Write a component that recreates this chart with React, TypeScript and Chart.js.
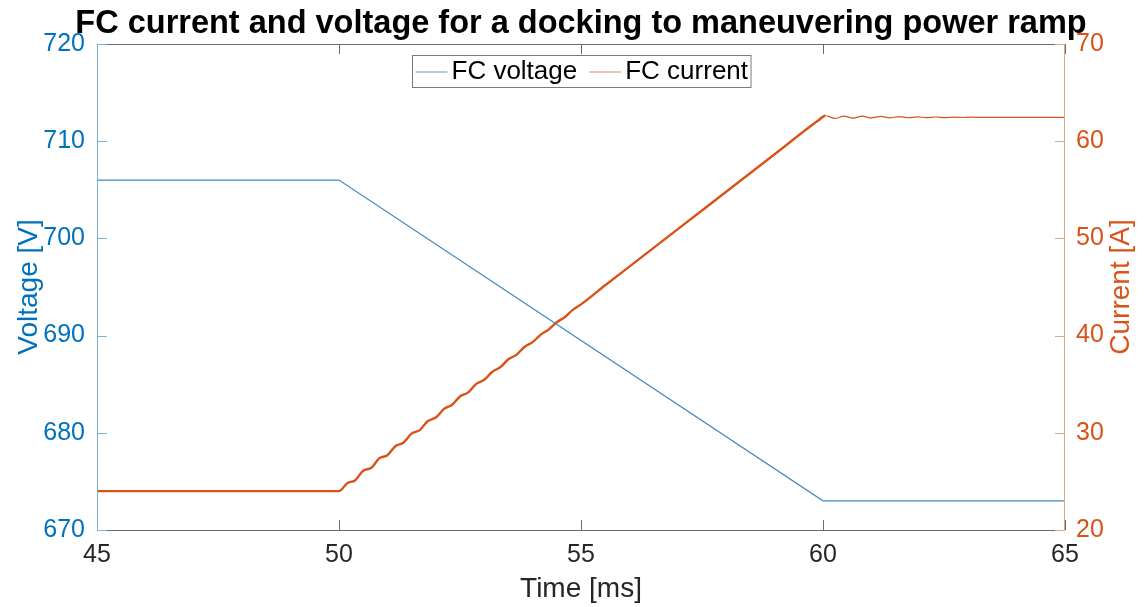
import React, { useEffect, useRef } from "react";
import { Chart, registerables } from "chart.js";

Chart.register(...registerables);

const chartTitle = "FC current and voltage for a docking to maneuvering power ramp";
const xTitle = "Time [ms]";
const yLeftTitle = "Voltage [V]";
const yRightTitle = "Current [A]";

const voltageLabel = "FC voltage";
const currentLabel = "FC current";

const xTicks = [45, 50, 55, 60, 65];
const voltageTicks = [670, 680, 690, 700, 710, 720];
const currentTicks = [20, 30, 40, 50, 60, 70];

const voltageTime = [45, 50, 60, 65];
const voltageValues = [706, 706, 673, 673];

const currentTime = [
  45.0, 50.0, 50.17, 50.33, 50.5, 50.67, 50.83, 51.0, 51.17, 51.33, 51.5, 51.67, 51.83,
  52.0, 52.17, 52.33, 52.5, 52.67, 52.83, 53.0, 53.17, 53.33, 53.5, 53.67, 53.83,
  54.0, 54.17, 54.33, 54.5, 54.67, 54.83, 55.0, 55.5, 56.0, 57.0, 58.0, 59.0, 59.9,
  60.05, 60.25, 60.43, 60.62, 60.81, 61.0, 61.19, 61.38, 61.57, 61.76, 61.95, 62.14,
  62.33, 62.52, 62.71, 62.9, 63.09, 63.28, 63.5, 64.0, 65.0,
];
const currentValues = [
  24.0, 24.0, 24.82, 25.1, 26.1, 26.4, 27.37, 27.69, 28.64, 28.98, 29.92, 30.28, 31.19,
  31.57, 32.46, 32.86, 33.74, 34.16, 35.01, 35.45, 36.28, 36.74, 37.56, 38.04, 38.83,
  39.33, 40.1, 40.62, 41.38, 41.92, 42.65, 43.21, 45.18, 47.1, 50.95, 54.8, 58.65, 62.12,
  62.62, 62.34, 62.59, 62.37, 62.57, 62.39, 62.55, 62.4, 62.53, 62.41, 62.51, 62.42,
  62.49, 62.43, 62.48, 62.44, 62.47, 62.45, 62.46, 62.46, 62.46,
];

const FONT = '"Liberation Sans", Arial, Helvetica, sans-serif';
const BLUE = "#0072BD";
const ORANGE = "#D95319";
const DARK = "#262626";

const decorPlugin = {
  id: "decor",
  afterDraw(chart: any) {
    const { ctx, chartArea } = chart;
    const { left, right, top, bottom } = chartArea;
    const xs = chart.scales.x;
    const yl = chart.scales.y;
    const yr = chart.scales.y1;
    const tl = 10;
    ctx.save();
    ctx.lineWidth = 1;

    // top & bottom borders with inward ticks
    ctx.strokeStyle = "#6b6b6b";
    ctx.beginPath();
    ctx.moveTo(left, bottom + 0.5);
    ctx.lineTo(right, bottom + 0.5);
    ctx.moveTo(left, top + 0.5);
    ctx.lineTo(right, top + 0.5);
    xs.ticks.forEach((t: any) => {
      const px = Math.round(xs.getPixelForValue(t.value)) + 0.5;
      ctx.moveTo(px, bottom);
      ctx.lineTo(px, bottom - tl);
      ctx.moveTo(px, top);
      ctx.lineTo(px, top + tl);
    });
    ctx.stroke();

    // left axis
    ctx.strokeStyle = "#7fb0d3";
    ctx.beginPath();
    ctx.moveTo(left + 0.5, top);
    ctx.lineTo(left + 0.5, bottom);
    yl.ticks.forEach((t: any) => {
      const py = Math.round(yl.getPixelForValue(t.value)) + 0.5;
      ctx.moveTo(left, py);
      ctx.lineTo(left + tl, py);
    });
    ctx.stroke();

    // right axis
    ctx.strokeStyle = "#d7aa8c";
    ctx.beginPath();
    ctx.moveTo(right - 0.5, top);
    ctx.lineTo(right - 0.5, bottom);
    yr.ticks.forEach((t: any) => {
      const py = Math.round(yr.getPixelForValue(t.value)) + 0.5;
      ctx.moveTo(right, py);
      ctx.lineTo(right - tl, py);
    });
    ctx.stroke();

    const cx = (left + right) / 2;

    // title
    ctx.fillStyle = "#000";
    ctx.font = `bold 32.5px ${FONT}`;
    ctx.textAlign = "center";
    ctx.textBaseline = "alphabetic";
    ctx.fillText(chartTitle, cx, 33);

    // x title
    ctx.fillStyle = DARK;
    ctx.font = `28px ${FONT}`;
    ctx.textBaseline = "middle";
    ctx.fillText(xTitle, cx, 589);

    // y titles
    const cy = (top + bottom) / 2;
    ctx.save();
    ctx.translate(29, cy);
    ctx.rotate(-Math.PI / 2);
    ctx.fillStyle = BLUE;
    ctx.fillText(yLeftTitle, 0, 0);
    ctx.restore();
    ctx.save();
    ctx.translate(1121, cy);
    ctx.rotate(-Math.PI / 2);
    ctx.fillStyle = ORANGE;
    ctx.fillText(yRightTitle, 0, 0);
    ctx.restore();

    // legend
    const ds = chart.data.datasets;
    ctx.font = `26px ${FONT}`;
    const sample = 32;
    const gap = 4;
    const itemGap = 12;
    const padX = 3;
    const widths = ds.map((d: any) => sample + gap + ctx.measureText(d.label).width);
    const totalW = widths.reduce((a: number, b: number) => a + b, 0) + itemGap * (ds.length - 1) + padX * 2;
    const boxTop = 55;
    const boxH = 32;
    const boxLeft = Math.round(cx - totalW / 2) + 0.5;
    ctx.fillStyle = "#fff";
    ctx.fillRect(boxLeft, boxTop, totalW, boxH);
    ctx.strokeStyle = "#7a7a7a";
    ctx.strokeRect(boxLeft, boxTop + 0.5, totalW, boxH);
    let xPos = boxLeft + padX;
    const midY = boxTop + boxH / 2 + 1;
    ds.forEach((d: any, i: number) => {
      ctx.strokeStyle = d.legendColor;
      ctx.lineWidth = 1.2;
      ctx.beginPath();
      ctx.moveTo(xPos, midY);
      ctx.lineTo(xPos + sample, midY);
      ctx.stroke();
      ctx.fillStyle = "#000";
      ctx.textAlign = "left";
      ctx.textBaseline = "middle";
      ctx.fillText(d.label, xPos + sample + gap, midY);
      xPos += widths[i] + itemGap;
    });

    ctx.restore();
  },
};

export default function App() {
  const ref = useRef<HTMLCanvasElement>(null);

  useEffect(() => {
    if (!ref.current) return;
    Chart.defaults.font.family = FONT;
    const chart = new Chart(ref.current, {
      type: "line",
      data: {
        datasets: [
          {
            label: voltageLabel,
            data: voltageTime.map((t, i) => ({ x: t, y: voltageValues[i] })),
            borderColor: "#3f8cc4",
            legendColor: "#5a9dcc",
            borderWidth: 1.3,
            pointRadius: 0,
            yAxisID: "y",
            tension: 0,
          } as any,
          {
            label: currentLabel,
            data: currentTime.map((t, i) => ({ x: t, y: currentValues[i] })),
            borderColor: ORANGE,
            legendColor: "#e08a62",
            pointRadius: 0,
            yAxisID: "y1",
            cubicInterpolationMode: "monotone",
            segment: {
              borderWidth: (c: any) => (c.p0.parsed.x < 59.95 ? 2.4 : 1.2),
            },
          } as any,
        ],
      },
      options: {
        animation: false,
        responsive: false,
        devicePixelRatio: 1,
        layout: { padding: { top: 44, left: 0, right: 0, bottom: 0 } },
        plugins: {
          legend: { display: false },
          tooltip: { enabled: false },
          title: { display: false },
        },
        scales: {
          x: {
            type: "linear",
            min: 45,
            max: 65,
            afterBuildTicks: (s: any) => {
              s.ticks = xTicks.map((v) => ({ value: v }));
            },
            afterFit: (s: any) => {
              s.height = 77;
            },
            grid: { display: false, drawTicks: false },
            border: { display: false },
            ticks: { color: DARK, font: { size: 25 }, padding: 10, maxRotation: 0 },
          },
          y: {
            type: "linear",
            position: "left",
            min: 670,
            max: 720,
            afterBuildTicks: (s: any) => {
              s.ticks = voltageTicks.map((v) => ({ value: v }));
            },
            afterFit: (s: any) => {
              s.width = 97;
            },
            grid: { display: false, drawTicks: false },
            border: { display: false },
            ticks: { color: BLUE, font: { size: 25 }, padding: 12 },
          },
          y1: {
            type: "linear",
            position: "right",
            min: 20,
            max: 70,
            afterBuildTicks: (s: any) => {
              s.ticks = currentTicks.map((v) => ({ value: v }));
            },
            afterFit: (s: any) => {
              s.width = 81;
            },
            grid: { display: false, drawTicks: false },
            border: { display: false },
            ticks: { color: ORANGE, font: { size: 25 }, padding: 11 },
          },
        },
      } as any,
      plugins: [decorPlugin],
    });
    return () => chart.destroy();
  }, []);

  return (
    <div style={{ position: "fixed", left: 0, top: 0, width: 1146, height: 607, background: "#fff" }}>
      <canvas ref={ref} width={1146} height={607} style={{ display: "block" }} />
    </div>
  );
}
